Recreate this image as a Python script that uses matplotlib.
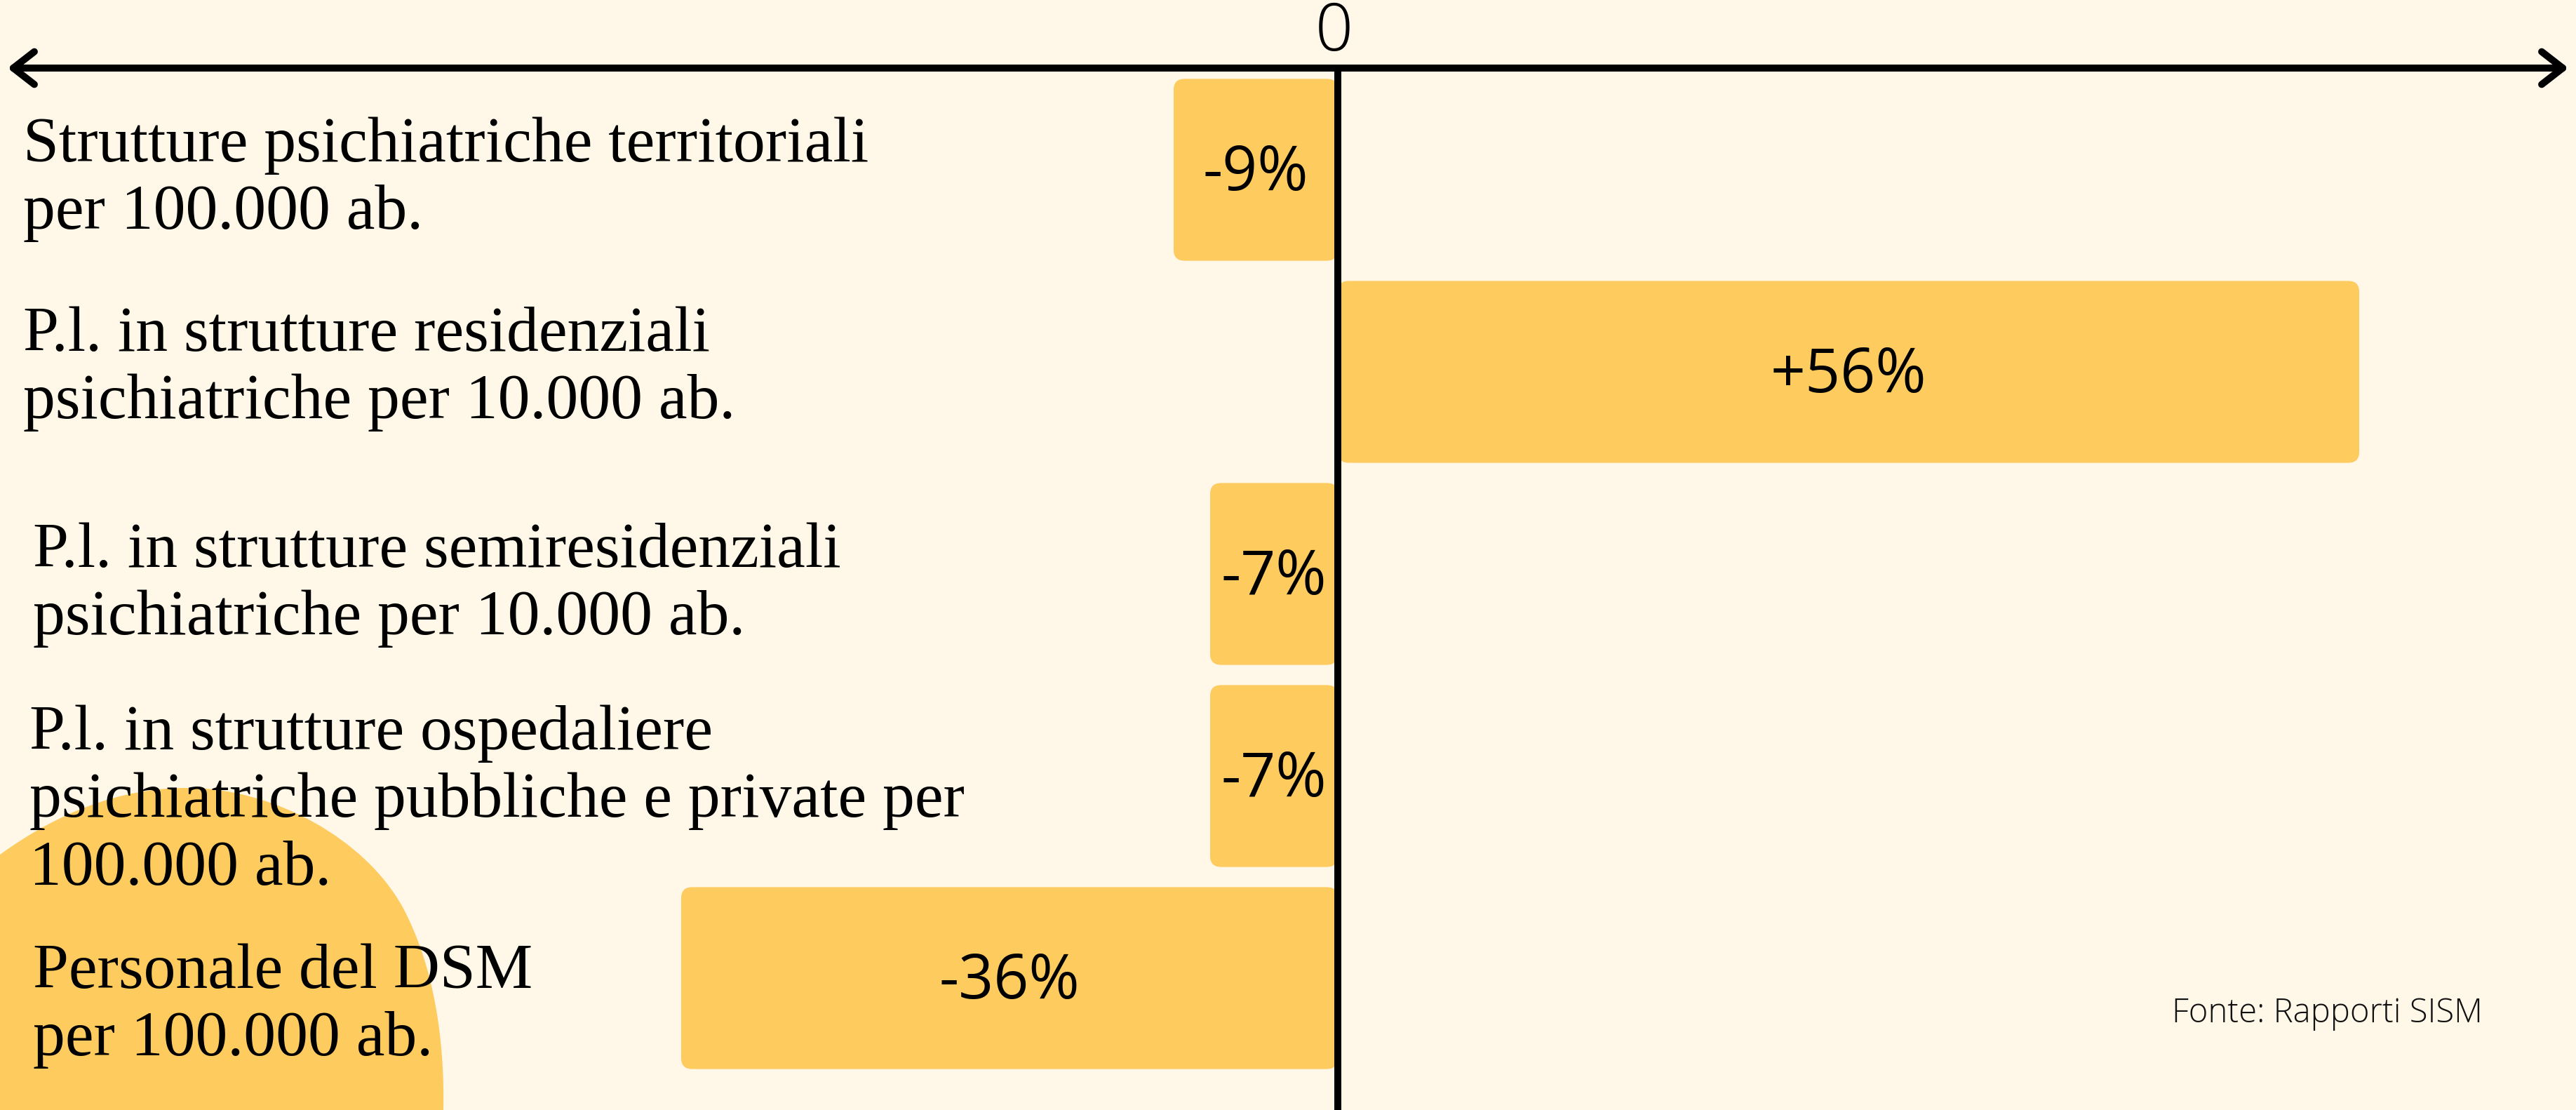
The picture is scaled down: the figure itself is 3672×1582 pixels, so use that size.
import numpy as np
import matplotlib.pyplot as plt
from matplotlib.patches import FancyBboxPatch, FancyArrowPatch, PathPatch
from matplotlib.path import Path

# data
labels = [
    "Strutture psichiatriche territoriali\nper 100.000 ab.",
    "P.l. in strutture residenziali\npsichiatriche per 10.000 ab.",
    "P.l. in strutture semiresidenziali\npsichiatriche per 10.000 ab.",
    "P.l. in strutture ospedaliere\npsichiatriche pubbliche e private per\n100.000 ab.",
    "Personale del DSM\nper 100.000 ab.",
]
values = [-9, 56, -7, -7, -36]
value_text = ["-9%", "+56%", "-7%", "-7%", "-36%"]
zero_label = "0"
source = "Fonte: Rapporti SISM"

bg = "#FFF7E8"
bar_col = "#FECB5E"

W, H = 3672, 1582
fig = plt.figure(figsize=(W / 100, H / 100), dpi=100, facecolor=bg)
ax = fig.add_axes([0, 0, 1, 1])
ax.set_axis_off()

# pixel scale of the layout
px_x = 26.0    # px per percent point
px_y = 288.0   # px per row
x0, y0 = 1907, 242
ax.set_xlim(-x0 / px_x, (W - x0) / px_x)
ax.set_ylim((H - y0) / px_y, -y0 / px_y)

# decorative blob bottom-left
def fp(x, y):
    return (x / W, 1 - y / H)

verts = [fp(0, 1218),
         fp(80, 1160), fp(170, 1122), fp(270, 1123),
         fp(390, 1124), fp(520, 1195), fp(574, 1293),
         fp(618, 1375), fp(634, 1480), fp(632, 1582),
         fp(0, 1582), fp(0, 1218)]
codes = [Path.MOVETO] + [Path.CURVE4] * 9 + [Path.LINETO, Path.CLOSEPOLY]
blob = PathPatch(Path(verts, codes), fc=bar_col, ec="none",
                 transform=fig.transFigure, zorder=0)
ax.add_patch(blob)

# bars
ypos = np.arange(len(values))
bh = 0.9
for y, v, t in zip(ypos, values, value_text):
    left = min(0, v)
    p = FancyBboxPatch((left, y - bh / 2), abs(v), bh,
                       boxstyle="round,pad=0,rounding_size=0.6",
                       mutation_aspect=px_x / px_y,
                       fc=bar_col, ec="none", zorder=2)
    ax.add_patch(p)
    ax.text(v / 2, y + 0.02, t, ha="center", va="center", fontsize=63,
            family="Open Sans", color="black", zorder=4)

# category labels (small nudges, in px)
label_dy = [14, -4, 16, 36, 40]
label_dx = [33, 33, 47, 42, 47]
for y, lab, dy, dx in zip(ypos, labels, label_dy, label_dx):
    ax.text(dx / W, y + dy / px_y, lab, transform=ax.get_yaxis_transform(),
            ha="left", va="center", fontsize=66, family="Liberation Serif",
            linespacing=1.22, color="black", zorder=4)

# axes with arrows
ya = (97 - y0) / px_y
xl, xr = ax.get_xlim()
arr = FancyArrowPatch((xl + 8 / px_x, ya), (xr - 8 / px_x, ya),
                      arrowstyle="<->,head_length=1.8,head_width=1.4",
                      mutation_scale=12, lw=7.2, color="black",
                      capstyle="round", joinstyle="round", zorder=3)
ax.add_patch(arr)
ax.plot([0, 0], [ya, ax.get_ylim()[0] + 0.1], color="black", lw=7.2,
        solid_capstyle="round", zorder=3)
ax.text(-0.2, (48 - y0) / px_y, zero_label, ha="center", va="center",
        fontsize=68, family="Open Sans", fontweight="light", color="black")

fig.text(3096 / W, 1 - 1445 / H, source, ha="left", va="center",
         fontsize=34, family="Open Sans", fontweight="light", color="#111111")

fig.savefig("out.png", dpi=100, facecolor=bg)
